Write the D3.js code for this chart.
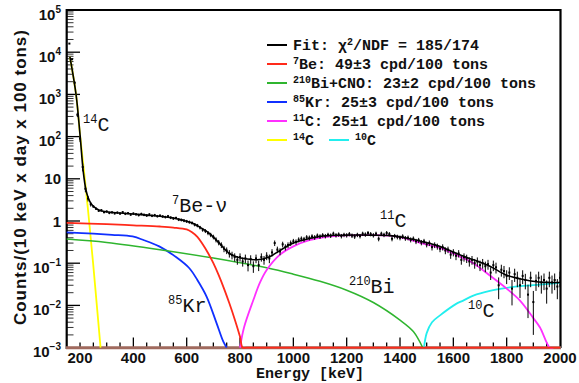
<!DOCTYPE html>
<meta charset="utf-8">
<style>
  body { margin: 0; background: #fff; }
  .tick-label { font-family: "Liberation Sans", Arial, sans-serif; font-weight: bold; font-size: 15px; fill: #111; }
  .mono { font-family: "Liberation Mono", "Courier New", monospace; fill: #111; }
  .legend { font-weight: bold; font-size: 15px; }
  .note { font-size: 20px; }
</style>
<body>
<svg id="chart"></svg>
<script src="https://d3js.org/d3.v7.min.js"></script>
<script>
  var width = 579, height = 383;

  // measured spectrum, 10 keV bins starting at 160 keV
  var dataStart = 160, dataStep = 10;
  var dataY = [16000, 6800, 1900, 330, 90, 19, 5.8, 3.4, 2.5, 2.2,
    1.95, 1.75, 1.8, 1.62, 1.68, 1.55, 1.6, 1.52, 1.58, 1.5,
    1.62, 1.48, 1.53, 1.42, 1.5, 1.44, 1.38, 1.47, 1.4, 1.35,
    1.43, 1.33, 1.38, 1.3, 1.34, 1.28, 1.24, 1.3, 1.2, 1.15,
    1.18, 1.08, 1.06, 1.02, 0.98, 0.94, 0.9, 0.82, 0.78, 0.7,
    0.62, 0.58, 0.52, 0.47, 0.42, 0.36, 0.31, 0.27, 0.22, 0.2,
    0.17, 0.155, 0.14, 0.12, 0.14, 0.11, 0.13, 0.09, 0.125, 0.085,
    0.13, 0.09, 0.14, 0.12, 0.15, 0.13, 0.18, 0.3, 0.21, 0.19,
    0.28, 0.24, 0.27, 0.3, 0.33, 0.32, 0.36, 0.38, 0.37, 0.41,
    0.4, 0.43, 0.41, 0.45, 0.43, 0.46, 0.44, 0.47, 0.45, 0.5,
    0.46, 0.48, 0.44, 0.47, 0.46, 0.49, 0.45, 0.43, 0.47, 0.44,
    0.5, 0.48, 0.52, 0.49, 0.46, 0.5, 0.38, 0.5, 0.47, 0.52,
    0.49, 0.38, 0.44, 0.42, 0.4, 0.43, 0.39, 0.4, 0.36, 0.38,
    0.33, 0.35, 0.31, 0.33, 0.28, 0.3, 0.24, 0.27, 0.25, 0.22,
    0.24, 0.2, 0.21, 0.16, 0.18, 0.15, 0.17, 0.12, 0.14, 0.13,
    0.11, 0.12, 0.1, 0.11, 0.09, 0.1, 0.085, 0.095, 0.06, 0.09,
    0.08, 0.03, 0.07, 0.065, 0.05, 0.06, 0.025, 0.055, 0.045, 0.03,
    0.05, 0.04, 0.018, 0.045, 0.012, 0.038, 0.045, 0.035, 0.04, 0.025,
    0.045, 0.035, 0.04, 0.028, 0.045];
  var dataErr = [300, 200, 100, 40, 15, 4, 1, 0.5, 0.3, 0.13,
    0.12, 0.11, 0.11, 0.1, 0.1, 0.1, 0.1, 0.1, 0.1, 0.1,
    0.1, 0.1, 0.1, 0.1, 0.1, 0.1, 0.1, 0.1, 0.1, 0.1,
    0.1, 0.095, 0.095, 0.093, 0.094, 0.092, 0.09, 0.092, 0.09, 0.088,
    0.088, 0.085, 0.084, 0.082, 0.081, 0.08, 0.078, 0.074, 0.072, 0.068,
    0.064, 0.062, 0.059, 0.056, 0.053, 0.049, 0.045, 0.042, 0.038, 0.036,
    0.034, 0.032, 0.031, 0.028, 0.031, 0.027, 0.03, 0.026, 0.029, 0.026,
    0.03, 0.025, 0.031, 0.028, 0.032, 0.03, 0.035, 0.045, 0.037, 0.036,
    0.043, 0.04, 0.042, 0.045, 0.047, 0.046, 0.049, 0.05, 0.05, 0.052,
    0.052, 0.054, 0.052, 0.055, 0.054, 0.055, 0.054, 0.056, 0.055, 0.058,
    0.055, 0.057, 0.054, 0.056, 0.055, 0.057, 0.055, 0.054, 0.056, 0.054,
    0.058, 0.057, 0.059, 0.057, 0.055, 0.058, 0.05, 0.058, 0.056, 0.059,
    0.057, 0.05, 0.054, 0.053, 0.052, 0.054, 0.051, 0.052, 0.049, 0.05,
    0.047, 0.048, 0.045, 0.047, 0.043, 0.045, 0.04, 0.042, 0.041, 0.038,
    0.04, 0.037, 0.037, 0.033, 0.035, 0.032, 0.034, 0.028, 0.031, 0.029,
    0.027, 0.028, 0.026, 0.027, 0.025, 0.026, 0.024, 0.025, 0.02, 0.025,
    0.023, 0.016, 0.022, 0.021, 0.018, 0.02, 0.015, 0.019, 0.018, 0.015,
    0.018, 0.016, 0.013, 0.018, 0.01, 0.016, 0.018, 0.016, 0.017, 0.014,
    0.018, 0.016, 0.017, 0.014, 0.018];

  // fitted curves [energy keV, counts]
  var fitCurve = [[162, 7800], [185, 1000], [200, 110], [212, 15], [222, 5.5], [231, 3.5], [241, 2.6],
    [255, 2.1], [272, 1.8], [300, 1.65], [350, 1.55], [400, 1.47], [450, 1.38], [500, 1.3],
    [550, 1.18], [585, 1.05], [620, 0.9], [647, 0.73], [685, 0.51], [722, 0.3], [760, 0.17],
    [790, 0.14], [820, 0.127], [850, 0.121], [872, 0.122], [900, 0.135], [922, 0.155], [950, 0.2],
    [973, 0.245], [1000, 0.3], [1050, 0.37], [1112, 0.44], [1180, 0.46], [1250, 0.465], [1300, 0.46],
    [1362, 0.45], [1420, 0.4], [1487, 0.32], [1550, 0.25], [1612, 0.17], [1675, 0.12], [1737, 0.085],
    [1800, 0.052], [1862, 0.041], [1920, 0.036], [1960, 0.035], [2000, 0.035]];
  var be7Curve = [[150, 0.9], [300, 0.84], [400, 0.79], [500, 0.74], [550, 0.7], [600, 0.63],
    [620, 0.54], [640, 0.42], [660, 0.28], [680, 0.174], [700, 0.1], [720, 0.052], [740, 0.025],
    [760, 0.0112], [780, 0.0047], [800, 0.0018], [810, 0.001], [825, 0], [2000, 0]];
  var bi210Curve = [[150, 0.372], [300, 0.309], [500, 0.209], [700, 0.132], [900, 0.0776],
    [1000, 0.055], [1100, 0.0372], [1200, 0.0229], [1300, 0.0117], [1400, 0.00447],
    [1450, 0.0024], [1485, 0.001]];
  var kr85Curve = [[150, 0.54], [250, 0.5], [320, 0.47], [397, 0.43], [440, 0.35], [497, 0.25],
    [560, 0.14], [610, 0.076], [640, 0.04], [675, 0.016], [712, 0.0038], [737, 0.0014],
    [750, 0.001]];
  var c11Curve = [[800, 0.001], [815, 0.003], [850, 0.0134], [875, 0.035], [900, 0.069], [950, 0.16],
    [1000, 0.25], [1060, 0.35], [1125, 0.42], [1200, 0.455], [1280, 0.465], [1362, 0.45],
    [1420, 0.39], [1487, 0.29], [1550, 0.23], [1612, 0.155], [1675, 0.1], [1737, 0.051],
    [1800, 0.025], [1850, 0.013], [1900, 0.005], [1925, 0.003], [1962, 0.001], [1975, 0.001]];
  var c14Curve = [[162, 7800], [185, 1000], [200, 110], [218, 10], [234, 1], [249, 0.1],
    [263, 0.01], [277, 0.001]];
  var c10Curve = [[1490, 0.001], [1500, 0.0022], [1520, 0.004], [1550, 0.0058], [1612, 0.011],
    [1637, 0.013], [1675, 0.017], [1737, 0.022], [1800, 0.026], [1862, 0.029], [1925, 0.031],
    [2000, 0.034]];

  var xTickLabels = [200, 400, 600, 800, 1000, 1200, 1400, 1600, 1800, 2000];
  var yTickLabels = [["10", "5"], ["10", "4"], ["10", "3"], ["10", "2"], ["10", ""], ["1", ""],
    ["10", "-1"], ["10", "-2"], ["10", "-3"]];
  var legendRows = [
    [["Fit: \u03c7", 0], ["2", 1], ["/NDF = 185/174", 0]],
    [["7", 1], ["Be: 49\u00b13 cpd/100 tons", 0]],
    [["210", 1], ["Bi+CNO: 23\u00b12 cpd/100 tons", 0]],
    [["85", 1], ["Kr: 25\u00b13 cpd/100 tons", 0]],
    [["11", 1], ["C: 25\u00b11 cpd/100 tons", 0]],
    [["14", 1], ["C", 0]]
  ];
  var legendColors = ["#000", "#ff2a1a", "#2fb52f", "#1030ff", "#ff30ff", "#ffff00"];

  var x = d3.scaleLinear().domain([150, 2000]).range([66.7, 560]);
  var y = d3.scaleLog().domain([1e-3, 1e5]).range([347.6, 10]);
  var yc = function (v) { return y(Math.max(v, 1e-3)); };

  var svg = d3.select("#chart").attr("width", width).attr("height", height);

  svg.append("clipPath").attr("id", "plot-clip")
    .append("rect").attr("x", 66).attr("y", 10).attr("width", 495).attr("height", 339);

  // y ticks
  var yMajor = d3.range(-3, 6).map(function (d) { return Math.pow(10, d); });
  var yMinor = [];
  d3.range(-3, 5).forEach(function (d) {
    d3.range(2, 10).forEach(function (k) { yMinor.push(k * Math.pow(10, d)); });
  });
  svg.append("g").selectAll("line").data(yMinor).enter().append("line")
    .attr("x1", 66.7).attr("x2", 73.5)
    .attr("y1", function (d) { return y(d); }).attr("y2", function (d) { return y(d); })
    .attr("stroke", "#333").attr("stroke-width", 1);
  svg.append("g").selectAll("line").data(yMajor).enter().append("line")
    .attr("x1", 66.7).attr("x2", 80)
    .attr("y1", function (d) { return y(d); }).attr("y2", function (d) { return y(d); })
    .attr("stroke", "#000").attr("stroke-width", 1.3);

  // x ticks
  svg.append("g").selectAll("line").data(d3.range(200, 2000, 50)).enter().append("line")
    .attr("x1", function (d) { return x(d); }).attr("x2", function (d) { return x(d); })
    .attr("y1", 347.6).attr("y2", function (d) { return (d % 200 === 0 && d > 200) ? 337.5 : 342.5; })
    .attr("stroke", "#000").attr("stroke-width", 1.3);

  // frame
  svg.append("line").attr("x1", 66.7).attr("x2", 561).attr("y1", 10).attr("y2", 10)
    .attr("stroke", "#000").attr("stroke-width", 2);
  svg.append("line").attr("x1", 560.5).attr("x2", 560.5).attr("y1", 9).attr("y2", 348)
    .attr("stroke", "#000").attr("stroke-width", 2.2);
  svg.append("line").attr("x1", 66.7).attr("x2", 66.7).attr("y1", 9).attr("y2", 349)
    .attr("stroke", "#000").attr("stroke-width", 2.2);
  svg.append("line").attr("x1", 66).attr("x2", 561).attr("y1", 347.8).attr("y2", 347.8)
    .attr("stroke", "#a06a5e").attr("stroke-width", 3);

  // tick labels
  svg.append("g").selectAll("text").data(xTickLabels).enter().append("text")
    .attr("class", "tick-label")
    .attr("x", function (d) { return x(d); }).attr("y", 363)
    .attr("text-anchor", "middle")
    .text(function (d) { return d; });

  var yl = svg.append("g").selectAll("text").data(yTickLabels).enter().append("text")
    .attr("class", "tick-label")
    .attr("x", 61).attr("text-anchor", "end")
    .attr("y", function (d, i) { return y(Math.pow(10, 5 - i)) + (d[1] ? 9.5 : 5.5); });
  yl.append("tspan").text(function (d) { return d[0]; });
  yl.append("tspan").attr("font-size", 10).attr("dy", -7)
    .text(function (d) { return d[1] ? d[1].replace("-", "\u2212") : ""; });

  // axis titles
  svg.append("text").attr("class", "tick-label")
    .attr("transform", "translate(26,177.5) rotate(-90)")
    .attr("text-anchor", "middle")
    .attr("textLength", 295).attr("lengthAdjust", "spacing")
    .style("font-size", "17px")
    .text("Counts/(10 keV x day x 100 tons)");
  svg.append("text").attr("class", "mono")
    .attr("x", 310).attr("y", 378).attr("text-anchor", "middle")
    .style("font-weight", "bold").style("font-size", "15px")
    .text("Energy [keV]");

  // curves
  var line = d3.line()
    .x(function (d) { return x(d[0]); })
    .y(function (d) { return yc(d[1]); })
    .curve(d3.curveCatmullRom.alpha(0.5));

  var plot = svg.append("g").attr("clip-path", "url(#plot-clip)");

  function drawCurve(data, color, w) {
    plot.append("path").datum(data)
      .attr("d", line).attr("fill", "none")
      .attr("stroke", color).attr("stroke-width", w);
  }
  drawCurve(c14Curve, "#ffff00", 1.8);
  drawCurve(kr85Curve, "#1030ff", 1.8);
  drawCurve(bi210Curve, "#2fb52f", 1.5);
  drawCurve(c10Curve, "#22eeee", 1.8);
  drawCurve(c11Curve, "#ff30ff", 1.8);
  drawCurve(be7Curve, "#ff2a1a", 1.8);

  // data points with error bars
  var pts = dataY.map(function (v, i) { return [dataStart + i * dataStep, v, dataErr[i]]; });
  plot.append("g").selectAll("line").data(pts).enter().append("line")
    .attr("x1", function (d) { return x(d[0]); }).attr("x2", function (d) { return x(d[0]); })
    .attr("y1", function (d) { return yc(d[1] + d[2]); })
    .attr("y2", function (d) { return yc(d[1] - d[2]); })
    .attr("stroke", "#000").attr("stroke-width", 1);
  plot.append("g").selectAll("rect").data(pts).enter().append("rect")
    .attr("x", function (d) { return x(d[0]) - 1; })
    .attr("y", function (d) { return yc(d[1]) - 1; })
    .attr("width", 2).attr("height", 2).attr("fill", "#000");

  drawCurve(fitCurve, "#000", 1.6);

  // rich text helper for superscripts
  function rich(sel, parts, supSize, rise) {
    var cur = 0;
    parts.forEach(function (p) {
      var t = sel.append("tspan").text(p[0]);
      if (p[1]) { t.style("font-size", supSize + "px").attr("dy", -rise - cur); cur = -rise; }
      else { t.attr("dy", -cur); cur = 0; }
    });
  }

  // legend
  var lg = svg.append("g");
  legendRows.forEach(function (row, i) {
    var cy = 45 + i * 19;
    lg.append("line").attr("x1", 267).attr("x2", 287).attr("y1", cy).attr("y2", cy)
      .attr("stroke", legendColors[i]).attr("stroke-width", 2);
    var t = lg.append("text").attr("class", "mono legend").attr("x", 293).attr("y", cy + 5);
    rich(t, row, 10, 5);
  });
  var cy6 = 45 + 5 * 19;
  lg.append("line").attr("x1", 329).attr("x2", 349).attr("y1", cy6).attr("y2", cy6)
    .attr("stroke", "#22eeee").attr("stroke-width", 2);
  rich(lg.append("text").attr("class", "mono legend").attr("x", 355).attr("y", cy6 + 5),
    [["10", 1], ["C", 0]], 10, 5);

  // curve annotations
  var notes = [
    [83, 131, [["14", 1], ["C", 0]]],
    [172, 212, [["7", 1], ["Be-\u03bd", 0]]],
    [168, 312, [["85", 1], ["Kr", 0]]],
    [349, 293, [["210", 1], ["Bi", 0]]],
    [380, 227, [["11", 1], ["C", 0]]],
    [468, 317, [["10", 1], ["C", 0]]]
  ];
  notes.forEach(function (n) {
    var t = svg.append("text").attr("class", "mono note").attr("x", n[0]).attr("y", n[1]);
    rich(t, n[2], 12, 8);
  });
</script>
</body>
